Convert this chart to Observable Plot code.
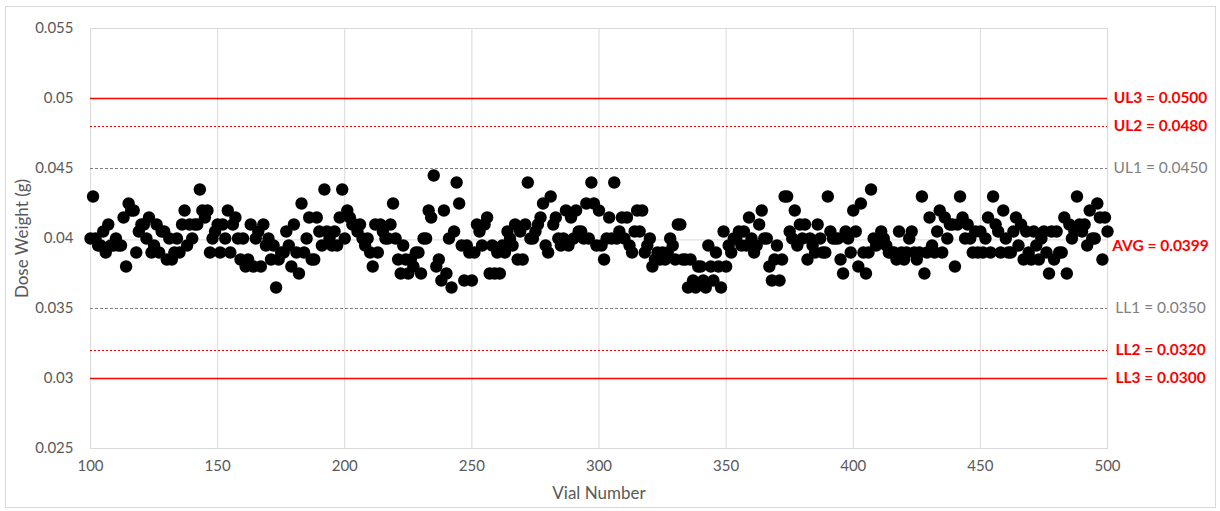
<!DOCTYPE html>
<html><head><meta charset="utf-8">
<script src="https://cdn.jsdelivr.net/npm/d3@7"></script>
<script src="https://cdn.jsdelivr.net/npm/@observablehq/plot@0.6"></script>
<style>
body{margin:0;background:#fff;}
#wrap{position:relative;width:1220px;height:511px;}
#border{position:absolute;left:5px;top:6px;width:1209px;height:500px;border:1px solid #d9d9d9;pointer-events:none;}
</style></head><body><div id="wrap"><div id="border"></div></div>
<script>
// Dose weight (g) for vials 100..500
const weights = [
0.0400,0.0430,0.0400,0.0395,0.0395,0.0405,0.0390,0.0410,0.0395,0.0395,
0.0400,0.0395,0.0395,0.0415,0.0380,0.0425,0.0420,0.0420,0.0390,0.0405,
0.0410,0.0410,0.0400,0.0415,0.0390,0.0395,0.0410,0.0390,0.0405,0.0405,
0.0385,0.0400,0.0385,0.0390,0.0400,0.0390,0.0410,0.0420,0.0395,0.0410,
0.0400,0.0410,0.0410,0.0435,0.0420,0.0415,0.0420,0.0390,0.0400,0.0405,
0.0410,0.0390,0.0410,0.0400,0.0420,0.0390,0.0410,0.0415,0.0400,0.0385,
0.0400,0.0380,0.0385,0.0410,0.0380,0.0400,0.0405,0.0380,0.0410,0.0395,
0.0400,0.0385,0.0395,0.0365,0.0385,0.0390,0.0390,0.0405,0.0395,0.0380,
0.0410,0.0390,0.0375,0.0425,0.0390,0.0400,0.0415,0.0385,0.0385,0.0415,
0.0405,0.0395,0.0435,0.0405,0.0400,0.0395,0.0405,0.0395,0.0415,0.0435,
0.0400,0.0420,0.0415,0.0410,0.0410,0.0405,0.0410,0.0400,0.0395,0.0400,
0.0390,0.0380,0.0410,0.0390,0.0410,0.0405,0.0400,0.0400,0.0410,0.0425,
0.0400,0.0385,0.0375,0.0395,0.0385,0.0375,0.0385,0.0380,0.0390,0.0390,
0.0375,0.0400,0.0400,0.0420,0.0415,0.0445,0.0380,0.0385,0.0370,0.0420,
0.0375,0.0400,0.0365,0.0405,0.0440,0.0425,0.0395,0.0370,0.0395,0.0390,
0.0370,0.0390,0.0410,0.0405,0.0395,0.0410,0.0415,0.0375,0.0395,0.0375,
0.0390,0.0375,0.0395,0.0390,0.0405,0.0400,0.0395,0.0410,0.0385,0.0405,
0.0385,0.0410,0.0440,0.0400,0.0400,0.0405,0.0410,0.0415,0.0425,0.0395,
0.0390,0.0430,0.0410,0.0415,0.0400,0.0395,0.0400,0.0420,0.0395,0.0415,
0.0400,0.0420,0.0405,0.0405,0.0400,0.0425,0.0400,0.0440,0.0425,0.0395,
0.0420,0.0395,0.0385,0.0400,0.0415,0.0400,0.0440,0.0400,0.0405,0.0415,
0.0400,0.0415,0.0395,0.0390,0.0405,0.0420,0.0405,0.0420,0.0390,0.0395,
0.0400,0.0380,0.0385,0.0390,0.0385,0.0390,0.0385,0.0390,0.0400,0.0395,
0.0385,0.0410,0.0410,0.0385,0.0385,0.0365,0.0385,0.0370,0.0365,0.0380,
0.0380,0.0370,0.0365,0.0395,0.0380,0.0370,0.0390,0.0380,0.0365,0.0405,
0.0380,0.0395,0.0390,0.0400,0.0400,0.0405,0.0395,0.0405,0.0395,0.0415,
0.0400,0.0390,0.0395,0.0410,0.0420,0.0400,0.0400,0.0380,0.0370,0.0385,
0.0395,0.0370,0.0385,0.0430,0.0430,0.0405,0.0400,0.0420,0.0395,0.0410,
0.0400,0.0410,0.0385,0.0400,0.0395,0.0390,0.0410,0.0400,0.0390,0.0390,
0.0430,0.0405,0.0400,0.0400,0.0400,0.0385,0.0375,0.0405,0.0400,0.0390,
0.0420,0.0405,0.0380,0.0425,0.0390,0.0375,0.0390,0.0435,0.0400,0.0395,
0.0400,0.0405,0.0400,0.0395,0.0390,0.0390,0.0390,0.0385,0.0405,0.0390,
0.0385,0.0390,0.0400,0.0405,0.0390,0.0385,0.0390,0.0430,0.0375,0.0390,
0.0415,0.0395,0.0390,0.0405,0.0420,0.0390,0.0415,0.0400,0.0410,0.0410,
0.0380,0.0410,0.0430,0.0415,0.0400,0.0410,0.0400,0.0390,0.0405,0.0390,
0.0405,0.0390,0.0400,0.0415,0.0390,0.0430,0.0410,0.0405,0.0390,0.0420,
0.0400,0.0390,0.0390,0.0405,0.0415,0.0395,0.0410,0.0385,0.0405,0.0390,
0.0385,0.0405,0.0395,0.0385,0.0400,0.0405,0.0390,0.0375,0.0405,0.0385,
0.0405,0.0390,0.0390,0.0415,0.0375,0.0410,0.0400,0.0405,0.0430,0.0410,
0.0405,0.0410,0.0395,0.0420,0.0400,0.0400,0.0425,0.0415,0.0385,0.0415,
0.0405
];
const firstVial = 100;

const limitNames  = ["UL3", "UL2", "UL1", "AVG", "LL1", "LL2", "LL3"];
const limitValues = [0.0500, 0.0480, 0.0450, 0.0399, 0.0350, 0.0320, 0.0300];

const xTicks = [100, 150, 200, 250, 300, 350, 400, 450, 500];
const yTicks = [0.025, 0.03, 0.035, 0.04, 0.045, 0.05, 0.055];

// styles (kept separate from data)
const lineStyle = {
  UL3: {stroke: "#ff0000", width: 1.5, dash: null},
  UL2: {stroke: "#ff0000", width: 1, dash: "2,2"},
  UL1: {stroke: "#808080", width: 1, dash: "3,2"},
  AVG: {stroke: "#d9d9d9", width: 1, dash: null},
  LL1: {stroke: "#808080", width: 1, dash: "3,2"},
  LL2: {stroke: "#ff0000", width: 1, dash: "2,2"},
  LL3: {stroke: "#ff0000", width: 1.5, dash: null}
};
const labelStyle = {
  UL3: {fill: "#ff0000", weight: "bold", dy: 0},
  UL2: {fill: "#ff0000", weight: "bold", dy: 0},
  UL1: {fill: "#808080", weight: "normal", dy: 0},
  AVG: {fill: "#ff0000", weight: "bold", dy: 6},
  LL1: {fill: "#808080", weight: "normal", dy: 0},
  LL2: {fill: "#ff0000", weight: "bold", dy: 0},
  LL3: {fill: "#ff0000", weight: "bold", dy: 0}
};

const points = weights.map((w, i) => ({vial: firstVial + i, weight: w}));
const limits = limitNames.map((n, i) => ({name: n, value: limitValues[i]}));

const marks = [
  Plot.ruleX(xTicks.slice(1, -1), {stroke: "#d9d9d9", strokeWidth: 1}),
  Plot.frame({stroke: "#d9d9d9"})
];
for (const l of limits) {
  const s = lineStyle[l.name];
  marks.push(Plot.ruleY([l.value], {stroke: s.stroke, strokeWidth: s.width, strokeDasharray: s.dash ?? undefined}));
}
marks.push(Plot.dot(points, {x: "vial", y: "weight", r: 6.2, fill: "#000", stroke: "none"}));
for (const l of limits) {
  const s = labelStyle[l.name];
  marks.push(Plot.text([l], {
    x: () => 500, y: "value", dx: 53, dy: s.dy,
    text: d => `${d.name} = ${d.value.toFixed(4)}`,
    fill: s.fill, fontWeight: s.weight, fontSize: 15.5, textAnchor: "middle"
  }));
}
marks.push(
  Plot.axisY({ticks: yTicks, tickSize: 0, tickPadding: 17, tickFormat: d => String(+d.toFixed(3)), label: null, fontSize: 15}),
  Plot.axisX({ticks: xTicks, tickSize: 0, tickPadding: 12, tickFormat: d => String(d), label: null, fontSize: 15}),
  Plot.text(["Dose Weight (g)"], {frameAnchor: "left", dx: -68, rotate: -90, fill: "#595959", fontSize: 17, textAnchor: "middle"}),
  Plot.text(["Vial Number"], {frameAnchor: "bottom", dy: 50, fill: "#595959", fontSize: 17, textAnchor: "middle"})
);

const chart = Plot.plot({
  width: 1220, height: 511,
  marginLeft: 90, marginRight: 113, marginTop: 28, marginBottom: 63,
  x: {domain: [100, 500]},
  y: {domain: [0.025, 0.055]},
  style: {fontFamily: "Lato, 'Open Sans', sans-serif", fontSize: "15px", color: "#595959", background: "transparent", overflow: "visible"},
  marks
});
chart.style.position = "absolute";
chart.style.left = "0";
chart.style.top = "0";
document.getElementById("wrap").appendChild(chart);
</script>
</body></html>
